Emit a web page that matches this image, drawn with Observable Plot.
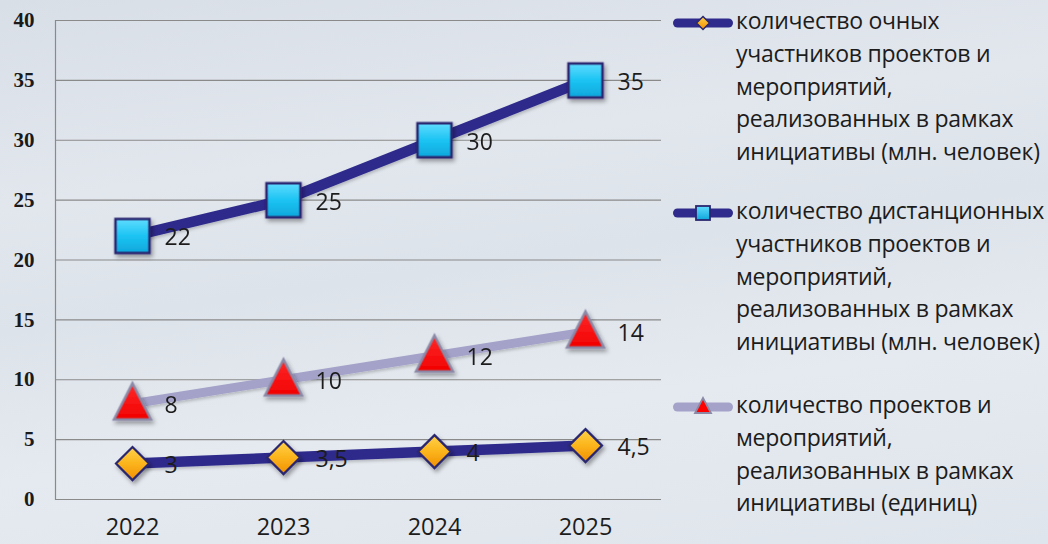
<!DOCTYPE html>
<html>
<head>
<meta charset="utf-8">
<script src="https://cdn.jsdelivr.net/npm/d3@7"></script>
<script src="https://cdn.jsdelivr.net/npm/@observablehq/plot@0.6"></script>
<style>
  html, body { margin: 0; padding: 0; }
  #wrap {
    position: relative; width: 1048px; height: 544px; overflow: hidden;
    background: linear-gradient(172deg, #d9dfe7 0%, #e2e7ee 30%, #dde3ea 48%, #e5eaf0 70%, #dfe5ec 100%);
    font-family: "Open Sans", sans-serif;
  }
  #chart { position: absolute; left: 0; top: 0; }
  .leg { position: absolute; left: 736px; font-size: 23px; letter-spacing: -0.25px; line-height: 32.75px; color: #1c1c1c; white-space: nowrap; }
  .sym { position: absolute; left: 668px; width: 70px; height: 24px; }
</style>
</head>
<body>
<div id="wrap">
  <div id="chart"></div>
</div>
<script>
// ---- data ----
const years = ["2022", "2023", "2024", "2025"];
const inPerson = [3, 3.5, 4, 4.5];
const remote = [22, 25, 30, 35];
const projects = [8, 10, 12, 14];
const yTicks = [0, 5, 10, 15, 20, 25, 30, 35, 40];
const legendLines = [
  ["количество очных", "участников проектов и", "мероприятий,", "реализованных в рамках", "инициативы (млн. человек)"],
  ["количество дистанционных", "участников проектов и", "мероприятий,", "реализованных в рамках", "инициативы (млн. человек)"],
  ["количество проектов и", "мероприятий,", "реализованных в рамках", "инициативы (единиц)"]
];

const NAVY = "#2e2b8c";
const LAV = "#a4a2c9";

const toRows = (vals, s) => vals.map((v, i) => ({year: years[i], value: v, series: s}));
const rowsIn = toRows(inPerson, "in");
const rowsRemote = toRows(remote, "remote");
const rowsProj = toRows(projects, "proj");
const allRows = [...rowsIn, ...rowsRemote, ...rowsProj];
const fmt = v => String(v).replace(".", ",");

// custom symbols
const sq = {draw(ctx, size) { const r = Math.sqrt(size / Math.PI); ctx.moveTo(-r, -r); ctx.lineTo(r, -r); ctx.lineTo(r, r); ctx.lineTo(-r, r); ctx.closePath(); }};
const dia = {draw(ctx, size) { const r = Math.sqrt(size / Math.PI); ctx.moveTo(0, -r); ctx.lineTo(r, 0); ctx.lineTo(0, r); ctx.lineTo(-r, 0); ctx.closePath(); }};
const tri = {draw(ctx, size) { const r = Math.sqrt(size / Math.PI); ctx.moveTo(0, -1.1 * r); ctx.lineTo(r, 0.85 * r); ctx.lineTo(-r, 0.85 * r); ctx.closePath(); }};

const defsMark = () => {
  const g = document.createElementNS("http://www.w3.org/2000/svg", "defs");
  g.innerHTML = `
    <linearGradient id="gSq" x1="0" y1="0" x2="0" y2="1">
      <stop offset="0" stop-color="#5fdcff"/>
      <stop offset="0.5" stop-color="#1cc4f3"/>
      <stop offset="1" stop-color="#0fa7dc"/>
    </linearGradient>
    <linearGradient id="gDia" x1="0" y1="0" x2="0" y2="1">
      <stop offset="0" stop-color="#ffd24a"/>
      <stop offset="0.5" stop-color="#fbb41c"/>
      <stop offset="1" stop-color="#f08f00"/>
    </linearGradient>
    <linearGradient id="gTri" x1="0" y1="0" x2="0" y2="1">
      <stop offset="0" stop-color="#ff2a2a"/>
      <stop offset="1" stop-color="#f20000"/>
    </linearGradient>
    <filter id="shadow" x="-50%" y="-50%" width="200%" height="200%">
      <feDropShadow dx="2" dy="3" stdDeviation="2" flood-color="#000" flood-opacity="0.35"/>
    </filter>
    <filter id="lshadow" x="-10%" y="-50%" width="120%" height="200%">
      <feDropShadow dx="1" dy="2" stdDeviation="1.5" flood-color="#000" flood-opacity="0.2"/>
    </filter>`;
  return g;
};

const chart = Plot.plot({
  width: 668,
  height: 544,
  marginLeft: 55,
  marginRight: 7,
  marginTop: 20,
  marginBottom: 45,
  style: {background: "transparent", overflow: "visible"},
  x: {type: "point", domain: years, padding: 0.5, label: null},
  y: {domain: [0, 40], label: null},
  marks: [
    defsMark,
    Plot.gridY(yTicks, {stroke: "#8a8a8a", strokeOpacity: 1, strokeWidth: 1.2}),
    Plot.frame({anchor: "left", stroke: "#8a8a8a", strokeWidth: 1.2}),
    Plot.axisY({ticks: yTicks, tickSize: 0, tickPadding: 21, fontSize: 21, fontFamily: "Liberation Serif", fontWeight: "bold", fill: "#1a1a1a"}),
    Plot.axisX({tickSize: 0, tickPadding: 19, fontSize: 23.5, fontFamily: "Open Sans", fill: "#1c1c1c"}),
    Plot.line(rowsProj, {x: "year", y: "value", stroke: LAV, strokeWidth: 9, strokeLinecap: "butt"}),
    Plot.line(rowsRemote, {x: "year", y: "value", stroke: NAVY, strokeWidth: 10.5, strokeLinecap: "butt"}),
    Plot.line(rowsIn, {x: "year", y: "value", stroke: NAVY, strokeWidth: 10.5, strokeLinecap: "butt"}),
    Plot.dot(rowsIn, {x: "year", y: "value", symbol: dia, r: 16.5, fill: "url(#gDia)", stroke: "#2a2770", strokeWidth: 2.2}),
    Plot.dot(rowsRemote, {x: "year", y: "value", symbol: sq, r: 17, fill: "url(#gSq)", stroke: "#2a2770", strokeWidth: 2.5}),
    Plot.dot(rowsProj, {x: "year", y: "value", symbol: tri, r: 18.5, fill: "url(#gTri)", stroke: "#8b89a6", strokeWidth: 2.5}),
    Plot.text(allRows, {x: "year", y: "value", text: d => fmt(d.value), dx: 32, dy: 2, textAnchor: "start", fontSize: 23, fontFamily: "Open Sans", fill: "#1c1c1c"})
  ]
});

// shadows on markers
d3.select(chart).selectAll('g[aria-label="dot"]').attr("filter", "url(#shadow)");
d3.select(chart).selectAll('g[aria-label="line"]').attr("filter", "url(#lshadow)");
document.getElementById("chart").appendChild(chart);

// ---- legend ----
const wrap = document.getElementById("wrap");
const legendTops = [4, 194, 388];
const symCenters = [23, 213, 407];
const symDefs = [
  {line: NAVY, shape: `<path d="M35,-6.5 L41.5,0 L35,6.5 L28.5,0 Z" fill="url(#lgDia)" stroke="#2a2770" stroke-width="1.5"/>`},
  {line: NAVY, shape: `<rect x="28" y="-7" width="14" height="14" fill="url(#lgSq)" stroke="#2a2770" stroke-width="1.8"/>`},
  {line: LAV, shape: `<path d="M35,-9 L43,6 L27,6 Z" fill="#ff0000" stroke="#8b89a6" stroke-width="1.8"/>`}
];
legendLines.forEach((lines, i) => {
  const d = document.createElement("div");
  d.className = "leg";
  d.style.top = legendTops[i] + "px";
  d.innerHTML = lines.join("<br>");
  wrap.appendChild(d);
  const s = document.createElementNS("http://www.w3.org/2000/svg", "svg");
  s.setAttribute("class", "sym");
  s.setAttribute("width", 70);
  s.setAttribute("height", 24);
  s.setAttribute("viewBox", "0 -12 70 24");
  s.style.top = (symCenters[i] - 12) + "px";
  s.innerHTML = `
    <defs>
      <linearGradient id="lgDia" x1="0" y1="0" x2="0" y2="1"><stop offset="0" stop-color="#ffd24a"/><stop offset="1" stop-color="#f08f00"/></linearGradient>
      <linearGradient id="lgSq" x1="0" y1="0" x2="0" y2="1"><stop offset="0" stop-color="#5fdcff"/><stop offset="1" stop-color="#0fa7dc"/></linearGradient>
    </defs>
    <line x1="9.5" y1="0" x2="60.5" y2="0" stroke="${symDefs[i].line}" stroke-width="9" stroke-linecap="round"/>
    ${symDefs[i].shape}`;
  wrap.appendChild(s);
});
</script>
</body>
</html>
